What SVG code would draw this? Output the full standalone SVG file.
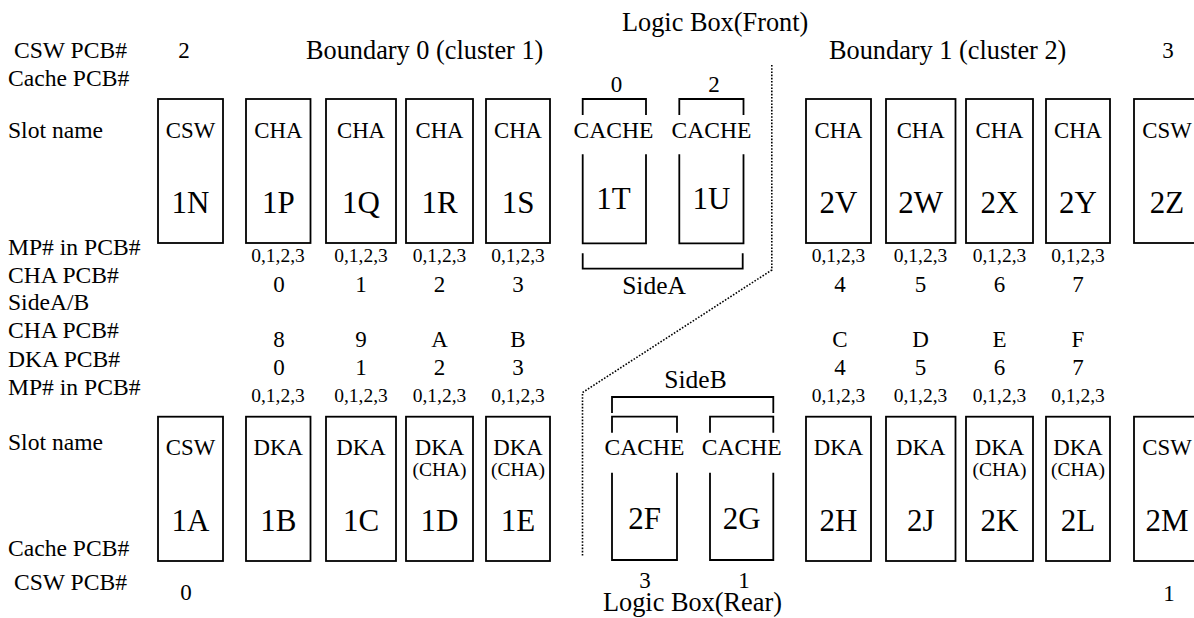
<svg xmlns="http://www.w3.org/2000/svg" width="1194" height="618" viewBox="0 0 1194 618">
<style>
text{font-family:"Liberation Serif","Times New Roman",serif;fill:#000}
.lbl{font-size:23.6px}
.hd{font-size:26.3px}
.ty{font-size:22.8px;text-anchor:middle}
.sub{font-size:19.5px;text-anchor:middle}
.big{font-size:31px;text-anchor:middle}
.num{font-size:23px;text-anchor:middle}
.mp{font-size:19.5px;text-anchor:middle}
.box{fill:#fff;stroke:#000;stroke-width:1.8}
.ln{fill:none;stroke:#000;stroke-width:1.8}
.dot{fill:none;stroke:#000;stroke-width:1.6;stroke-dasharray:1.6 1.6}
</style>
<rect width="1194" height="618" fill="#fff"/>

<g id="labels">
<text class="hd" x="622" y="31">Logic Box(Front)</text>
<text class="hd" x="306" y="59">Boundary 0 (cluster 1)</text>
<text class="hd" x="829" y="59">Boundary 1 (cluster 2)</text>
<text class="num" x="184" y="58">2</text>
<text class="num" x="1168" y="58">3</text>
<text class="lbl" x="14" y="58">CSW PCB#</text>
<text class="lbl" x="8" y="86">Cache PCB#</text>
<text class="lbl" x="8" y="138">Slot name</text>
<text class="lbl" x="8" y="255">MP# in PCB#</text>
<text class="lbl" x="8" y="283">CHA PCB#</text>
<text class="lbl" x="8" y="310">SideA/B</text>
<text class="lbl" x="8" y="338">CHA PCB#</text>
<text class="lbl" x="8" y="366.5">DKA PCB#</text>
<text class="lbl" x="8" y="395">MP# in PCB#</text>
<text class="lbl" x="8" y="450">Slot name</text>
<text class="lbl" x="8" y="556">Cache PCB#</text>
<text class="lbl" x="14" y="590">CSW PCB#</text>
<text class="num" x="186" y="600">0</text>
<text class="num" x="1169" y="601">1</text>
<text class="hd" x="603" y="611">Logic Box(Rear)</text>
<text class="num" x="616.5" y="91.5">0</text>
<text class="num" x="714" y="91.5">2</text>
<text class="num" x="645" y="588">3</text>
<text class="num" x="744" y="588">1</text>
<text class="hd" x="654" y="294" text-anchor="middle" style="font-size:25.5px">SideA</text>
<text class="hd" x="695.5" y="388" text-anchor="middle" style="font-size:25.5px">SideB</text>
</g>

<g id="row-numbers">
<text class="mp" x="278" y="262">0,1,2,3</text>
<text class="mp" x="361" y="262">0,1,2,3</text>
<text class="mp" x="439.5" y="262">0,1,2,3</text>
<text class="mp" x="518" y="262">0,1,2,3</text>
<text class="mp" x="838.5" y="262">0,1,2,3</text>
<text class="mp" x="920.5" y="262">0,1,2,3</text>
<text class="mp" x="999.5" y="262">0,1,2,3</text>
<text class="mp" x="1078" y="262">0,1,2,3</text>

<text class="num" x="279" y="291.5">0</text>
<text class="num" x="361" y="291.5">1</text>
<text class="num" x="439.5" y="291.5">2</text>
<text class="num" x="518" y="291.5">3</text>
<text class="num" x="840" y="291.5">4</text>
<text class="num" x="920.5" y="291.5">5</text>
<text class="num" x="999.5" y="291.5">6</text>
<text class="num" x="1078" y="291.5">7</text>

<text class="num" x="279" y="346.5">8</text>
<text class="num" x="361" y="346.5">9</text>
<text class="num" x="439.5" y="346.5">A</text>
<text class="num" x="518" y="346.5">B</text>
<text class="num" x="840" y="346.5">C</text>
<text class="num" x="920.5" y="346.5">D</text>
<text class="num" x="999.5" y="346.5">E</text>
<text class="num" x="1078" y="346.5">F</text>

<text class="num" x="279" y="375">0</text>
<text class="num" x="361" y="375">1</text>
<text class="num" x="439.5" y="375">2</text>
<text class="num" x="518" y="375">3</text>
<text class="num" x="840" y="375">4</text>
<text class="num" x="920.5" y="375">5</text>
<text class="num" x="999.5" y="375">6</text>
<text class="num" x="1078" y="375">7</text>

<text class="mp" x="278" y="402">0,1,2,3</text>
<text class="mp" x="361" y="402">0,1,2,3</text>
<text class="mp" x="439.5" y="402">0,1,2,3</text>
<text class="mp" x="518" y="402">0,1,2,3</text>
<text class="mp" x="838.5" y="402">0,1,2,3</text>
<text class="mp" x="920.5" y="402">0,1,2,3</text>
<text class="mp" x="999.5" y="402">0,1,2,3</text>
<text class="mp" x="1078" y="402">0,1,2,3</text>
</g>

<!-- top row -->
<g id="slot-1N"><rect class="box" x="158" y="99" width="65" height="144"/><text class="ty" x="190.5" y="137.5">CSW</text><text class="big" x="190.5" y="213">1N</text></g>
<g id="slot-1P"><rect class="box" x="246" y="99" width="64.5" height="144"/><text class="ty" x="278.3" y="137.5">CHA</text><text class="big" x="278.3" y="213">1P</text></g>
<g id="slot-1Q"><rect class="box" x="326" y="99" width="70" height="144"/><text class="ty" x="361" y="137.5">CHA</text><text class="big" x="361" y="213">1Q</text></g>
<g id="slot-1R"><rect class="box" x="406" y="99" width="67" height="144"/><text class="ty" x="439.5" y="137.5">CHA</text><text class="big" x="439.5" y="213">1R</text></g>
<g id="slot-1S"><rect class="box" x="486" y="99" width="64" height="144"/><text class="ty" x="518" y="137.5">CHA</text><text class="big" x="518" y="213">1S</text></g>
<g id="slot-1T"><path class="ln" d="M582.7,115 V99 H646 V115 M582.7,154.3 V243.3 H646 V154.3"/><text class="ty" x="613.5" y="138" style="font-size:23.6px">CACHE</text><text class="big" x="613.5" y="208.5">1T</text></g>
<g id="slot-1U"><path class="ln" d="M679.3,115 V99 H743.5 V115 M679.3,154.3 V243.3 H743.5 V154.3"/><text class="ty" x="711.4" y="138" style="font-size:23.6px">CACHE</text><text class="big" x="711.4" y="208.5">1U</text></g>
<g id="slot-2V"><rect class="box" x="806" y="99" width="65" height="144"/><text class="ty" x="838.5" y="137.5">CHA</text><text class="big" x="838.5" y="213">2V</text></g>
<g id="slot-2W"><rect class="box" x="886" y="99" width="69.5" height="144"/><text class="ty" x="920.7" y="137.5">CHA</text><text class="big" x="920.7" y="213">2W</text></g>
<g id="slot-2X"><rect class="box" x="966" y="99" width="67" height="144"/><text class="ty" x="999.5" y="137.5">CHA</text><text class="big" x="999.5" y="213">2X</text></g>
<g id="slot-2Y"><rect class="box" x="1046" y="99" width="64" height="144"/><text class="ty" x="1078" y="137.5">CHA</text><text class="big" x="1078" y="213">2Y</text></g>
<g id="slot-2Z"><rect class="box" x="1134" y="99" width="66" height="144"/><text class="ty" x="1167" y="137.5">CSW</text><text class="big" x="1167" y="213">2Z</text></g>

<!-- bottom row -->
<g id="slot-1A"><rect class="box" x="158" y="416.7" width="65" height="144.3"/><text class="ty" x="190.5" y="455">CSW</text><text class="big" x="190.5" y="531">1A</text></g>
<g id="slot-1B"><rect class="box" x="246" y="416.7" width="64.5" height="144.3"/><text class="ty" x="278.3" y="455">DKA</text><text class="big" x="278.3" y="531">1B</text></g>
<g id="slot-1C"><rect class="box" x="326" y="416.7" width="70" height="144.3"/><text class="ty" x="361" y="455">DKA</text><text class="big" x="361" y="531">1C</text></g>
<g id="slot-1D"><rect class="box" x="406" y="416.7" width="67" height="144.3"/><text class="ty" x="439.5" y="455">DKA</text><text class="sub" x="439.5" y="476">(CHA)</text><text class="big" x="439.5" y="531">1D</text></g>
<g id="slot-1E"><rect class="box" x="486" y="416.7" width="64" height="144.3"/><text class="ty" x="518" y="455">DKA</text><text class="sub" x="518" y="476">(CHA)</text><text class="big" x="518" y="531">1E</text></g>
<g id="slot-2F"><path class="ln" d="M612,432.7 V416.7 H677 V432.7 M612,472.7 V560 H677 V472.7"/><text class="ty" x="644.5" y="455" style="font-size:23.6px">CACHE</text><text class="big" x="644.5" y="528.5">2F</text></g>
<g id="slot-2G"><path class="ln" d="M710,432.7 V416.7 H773.3 V432.7 M710,472.7 V560 H773.3 V472.7"/><text class="ty" x="741.7" y="455" style="font-size:23.6px">CACHE</text><text class="big" x="741.7" y="528.5">2G</text></g>
<g id="slot-2H"><rect class="box" x="806" y="416.7" width="65" height="144.3"/><text class="ty" x="838.5" y="455">DKA</text><text class="big" x="838.5" y="531">2H</text></g>
<g id="slot-2J"><rect class="box" x="886" y="416.7" width="69.5" height="144.3"/><text class="ty" x="920.7" y="455">DKA</text><text class="big" x="920.7" y="531">2J</text></g>
<g id="slot-2K"><rect class="box" x="966" y="416.7" width="67" height="144.3"/><text class="ty" x="999.5" y="455">DKA</text><text class="sub" x="999.5" y="476">(CHA)</text><text class="big" x="999.5" y="531">2K</text></g>
<g id="slot-2L"><rect class="box" x="1046" y="416.7" width="64" height="144.3"/><text class="ty" x="1078" y="455">DKA</text><text class="sub" x="1078" y="476">(CHA)</text><text class="big" x="1078" y="531">2L</text></g>
<g id="slot-2M"><rect class="box" x="1134" y="416.7" width="66" height="144.3"/><text class="ty" x="1167" y="455">CSW</text><text class="big" x="1167" y="531">2M</text></g>

<g id="connectors">
<path class="ln" d="M582.7,253.3 V268.7 H742.7 V253.3"/>
<path class="ln" d="M612,413 V397 H773.3 V413"/>
<path class="dot" d="M771.8,65 V270 L582.5,392.5 V557"/>
</g>
</svg>
